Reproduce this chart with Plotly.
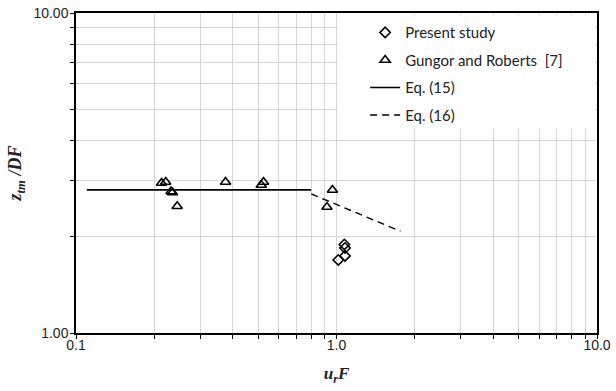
import plotly.graph_objects as go

# Present study
present_x = [1.072, 1.078, 1.078, 1.016]
present_y = [1.891, 1.844, 1.741, 1.691]

# Gungor and Roberts [7]
gr_x = [0.213, 0.221, 0.2316, 0.2346, 0.2446, 0.375, 0.514, 0.5246, 0.965, 0.919]
gr_y = [2.943, 2.964, 2.768, 2.749, 2.490, 2.964, 2.901, 2.964, 2.798, 2.476]

# Eq. (15) and Eq. (16)
eq15_x = [0.11, 0.80]
eq15_y = [2.80, 2.80]
eq16_x = [0.80, 1.76]
eq16_y = [2.72, 2.08]

x_tickvals = [0.1, 0.2, 0.3, 0.4, 0.5, 0.6, 0.7, 0.8, 0.9, 1, 2, 3, 4, 5, 6, 7, 8, 9, 10]
x_ticktext = ["0.1", "", "", "", "", "", "", "", "", "1.0", "", "", "", "", "", "", "", "", "10.0"]
y_tickvals = [1, 2, 3, 4, 5, 6, 7, 8, 9, 10]
y_ticktext = ["1.00", "", "", "", "", "", "", "", "", "10.00"]

fig = go.Figure()
fig.add_trace(go.Scatter(x=present_x, y=present_y, mode="markers", name="Present study",
                         legendgroup="a",
                         marker=dict(symbol="diamond-open", size=8, color="black",
                                     line=dict(width=1.6, color="black"))))
fig.add_trace(go.Scatter(x=gr_x, y=gr_y, mode="markers", name="Gungor and Roberts  [7]",
                         legendgroup="b",
                         marker=dict(symbol="triangle-up-open", size=9, color="black",
                                     line=dict(width=1.6, color="black"))))
fig.add_trace(go.Scatter(x=eq15_x, y=eq15_y, mode="lines", name="Eq. (15)",
                         legendgroup="c",
                         line=dict(color="black", width=1.6)))
fig.add_trace(go.Scatter(x=eq16_x, y=eq16_y, mode="lines", name="Eq. (16)",
                         legendgroup="d",
                         line=dict(color="black", width=1.4, dash="7px,5px")))

axis_common = dict(
    type="log",
    showgrid=True, gridcolor="#d6d6d6", gridwidth=1,
    showline=True, linecolor="black", linewidth=1.5, mirror=True,
    ticks="outside", ticklen=4, tickcolor="black", tickwidth=1,
    tickfont=dict(family="Liberation Sans", size=14, color="#222"),
    zeroline=False, automargin=False,
)

fig.update_xaxes(**axis_common, range=[-1, 1], tickmode="array",
                 tickvals=x_tickvals, ticktext=x_ticktext, ticklabelstandoff=-6,
                 title=dict(text="<b><i>u</i><sub><i>r</i></sub><i>F</i></b>",
                            font=dict(family="Liberation Serif", size=17, color="#222"),
                            standoff=16))
fig.update_yaxes(**axis_common, range=[0, 1], tickmode="array",
                 tickvals=y_tickvals, ticktext=y_ticktext, ticklabelstandoff=-1,
                 title=dict(text="<b><i>z</i><sub><i>tm</i></sub><i> /DF</i></b>",
                            font=dict(family="Liberation Serif", size=18, color="#222"),
                            standoff=7))

fig.add_shape(type="rect", xref="paper", yref="paper",
              x0=0.503, x1=0.996, y0=0.6375, y1=0.994,
              fillcolor="white", line=dict(width=0), layer="above")

fig.update_layout(
    width=616, height=391,
    margin=dict(l=76, r=19, t=13, b=58),
    paper_bgcolor="white", plot_bgcolor="white",
    showlegend=True,
    legend=dict(x=0.555, y=0.99, xanchor="left", yanchor="top",
                bgcolor="rgba(0,0,0,0)", borderwidth=0,
                font=dict(family="Lato", size=15, color="#222"),
                tracegroupgap=5, itemwidth=30),
)

fig.write_html("out.html")
